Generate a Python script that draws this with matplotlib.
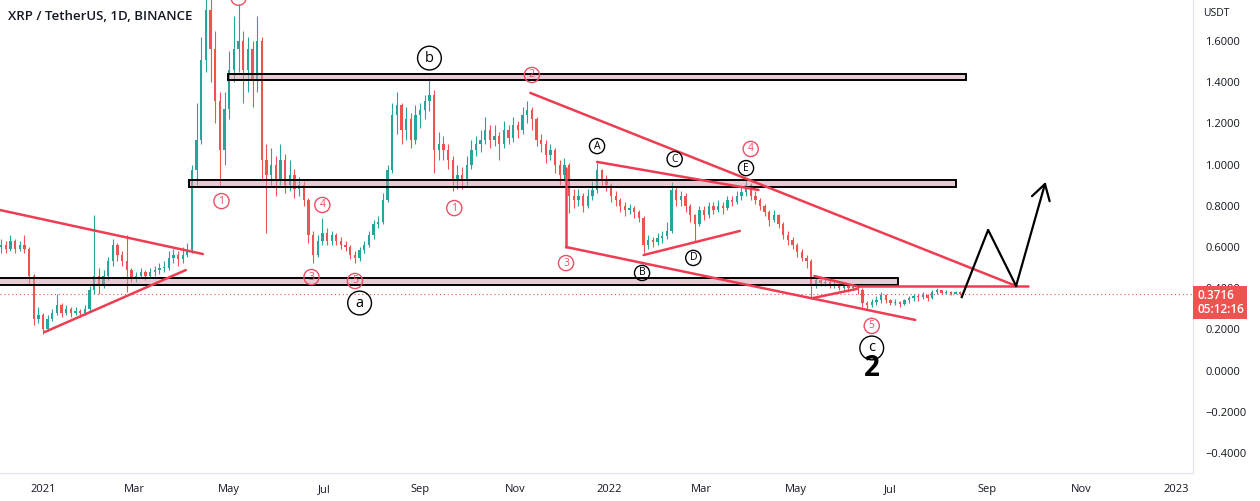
import matplotlib
matplotlib.use('Agg')
import matplotlib.pyplot as plt
import matplotlib.dates as mdates
from matplotlib.patches import Rectangle
from matplotlib.transforms import blended_transform_factory
import pandas as pd

plt.rcParams['font.family'] = ['Open Sans', 'DejaVu Sans']

# 3-day candles, XRP/USDT, Dec 2020 - Aug 2022
first_open = 0.60
closes = [0.61, 0.59, 0.63, 0.59, 0.61, 0.59, 0.46, 0.25, 0.27, 0.20,
          0.25, 0.28, 0.32, 0.28, 0.30, 0.28, 0.29, 0.28, 0.30, 0.39,
          0.46, 0.42, 0.46, 0.53, 0.61, 0.56, 0.53, 0.49, 0.45, 0.46,
          0.48, 0.46, 0.48, 0.49, 0.50, 0.50, 0.545, 0.56, 0.54, 0.56,
          0.585, 0.975, 1.12, 1.51, 1.75, 1.56, 1.31, 1.07, 1.27, 1.46,
          1.56, 1.60, 1.46, 1.56, 1.41, 1.60, 1.02, 0.95, 1.00, 0.925,
          1.02, 0.90, 0.95, 0.88, 0.90, 0.83, 0.66, 0.56, 0.63, 0.67,
          0.63, 0.66, 0.63, 0.61, 0.60, 0.56, 0.545, 0.585, 0.61, 0.66,
          0.71, 0.72, 0.83, 0.975, 1.24, 1.29, 1.17, 1.22, 1.12, 1.24,
          1.265, 1.31, 1.34, 1.07, 1.10, 1.07, 1.02, 0.925, 0.95, 0.925,
          1.00, 1.07, 1.10, 1.12, 1.17, 1.12, 1.14, 1.10, 1.17, 1.13,
          1.19, 1.17, 1.24, 1.265, 1.22, 1.12, 1.10, 1.045, 1.07, 1.00,
          0.95, 1.00, 0.85, 0.83, 0.85, 0.80, 0.85, 0.875, 0.975, 0.925,
          0.90, 0.85, 0.83, 0.80, 0.78, 0.79, 0.77, 0.74, 0.61, 0.634,
          0.625, 0.645, 0.655, 0.68, 0.875, 0.83, 0.85, 0.80, 0.755, 0.71,
          0.78, 0.755, 0.80, 0.78, 0.80, 0.79, 0.83, 0.82, 0.85, 0.865,
          0.90, 0.85, 0.83, 0.80, 0.77, 0.73, 0.755, 0.71, 0.66, 0.634,
          0.61, 0.575, 0.545, 0.53, 0.415, 0.44, 0.425, 0.43, 0.415, 0.42,
          0.40, 0.41, 0.40, 0.405, 0.39, 0.33, 0.32, 0.335, 0.343, 0.367,
          0.343, 0.33, 0.335, 0.325, 0.343, 0.352, 0.36, 0.357, 0.367, 0.352,
          0.38, 0.39, 0.377, 0.38, 0.372, 0.38, 0.3716]
highs = [0.64, 0.63, 0.66, 0.64, 0.63, 0.66, 0.60, 0.47, 0.31, 0.28,
         0.27, 0.30, 0.37, 0.33, 0.32, 0.31, 0.31, 0.30, 0.32, 0.41,
         0.755, 0.50, 0.49, 0.55, 0.64, 0.62, 0.58, 0.66, 0.50, 0.48,
         0.50, 0.49, 0.50, 0.51, 0.52, 0.53, 0.58, 0.59, 0.58, 0.60,
         0.62, 1.00, 1.30, 1.62, 1.96, 1.85, 1.65, 1.35, 1.35, 1.55,
         1.72, 1.78, 1.65, 1.62, 1.60, 1.72, 1.62, 1.10, 1.08, 1.04,
         1.10, 1.05, 1.02, 0.98, 0.94, 0.92, 0.84, 0.68, 0.66, 0.74,
         0.69, 0.68, 0.67, 0.65, 0.63, 0.61, 0.58, 0.60, 0.63, 0.68,
         0.73, 0.75, 0.86, 1.00, 1.30, 1.35, 1.30, 1.28, 1.25, 1.29,
         1.30, 1.34, 1.42, 1.36, 1.16, 1.14, 1.10, 1.04, 1.00, 0.99,
         1.04, 1.12, 1.14, 1.17, 1.23, 1.19, 1.19, 1.16, 1.21, 1.19,
         1.23, 1.21, 1.28, 1.31, 1.28, 1.23, 1.15, 1.12, 1.10, 1.08,
         1.02, 1.03, 1.01, 0.88, 0.88, 0.86, 0.88, 0.92, 1.01, 0.98,
         0.95, 0.91, 0.87, 0.84, 0.82, 0.81, 0.80, 0.78, 0.75, 0.66,
         0.65, 0.67, 0.68, 0.72, 0.915, 0.89, 0.87, 0.86, 0.81, 0.76,
         0.80, 0.80, 0.82, 0.82, 0.83, 0.82, 0.85, 0.85, 0.87, 0.89,
         0.935, 0.91, 0.87, 0.84, 0.81, 0.78, 0.78, 0.76, 0.72, 0.68,
         0.65, 0.62, 0.59, 0.56, 0.54, 0.46, 0.45, 0.45, 0.44, 0.44,
         0.43, 0.43, 0.42, 0.42, 0.41, 0.40, 0.34, 0.35, 0.36, 0.38,
         0.37, 0.35, 0.35, 0.34, 0.35, 0.36, 0.37, 0.37, 0.38, 0.37,
         0.39, 0.40, 0.39, 0.39, 0.385, 0.385, 0.385]
lows = [0.57, 0.57, 0.58, 0.57, 0.58, 0.57, 0.42, 0.22, 0.23, 0.18,
        0.19, 0.24, 0.27, 0.26, 0.27, 0.26, 0.27, 0.26, 0.27, 0.29,
        0.37, 0.37, 0.40, 0.44, 0.51, 0.53, 0.51, 0.38, 0.43, 0.43,
        0.45, 0.44, 0.45, 0.46, 0.47, 0.48, 0.49, 0.52, 0.51, 0.52,
        0.55, 0.57, 0.90, 1.10, 1.45, 1.40, 1.20, 0.89, 1.00, 1.22,
        1.40, 1.45, 1.30, 1.35, 1.28, 1.35, 0.92, 0.67, 0.90, 0.85,
        0.90, 0.86, 0.87, 0.84, 0.85, 0.80, 0.62, 0.52, 0.55, 0.61,
        0.61, 0.61, 0.61, 0.59, 0.58, 0.54, 0.52, 0.53, 0.57, 0.60,
        0.64, 0.69, 0.71, 0.82, 0.96, 1.15, 1.10, 1.12, 1.08, 1.10,
        1.18, 1.22, 1.26, 0.96, 1.02, 1.02, 0.98, 0.87, 0.88, 0.88,
        0.90, 0.98, 1.04, 1.06, 1.10, 1.08, 1.09, 1.02, 1.08, 1.10,
        1.11, 1.13, 1.15, 1.20, 1.17, 1.09, 1.06, 1.01, 1.02, 0.96,
        0.90, 0.93, 0.765, 0.79, 0.80, 0.77, 0.79, 0.83, 0.86, 0.89,
        0.87, 0.82, 0.80, 0.77, 0.75, 0.76, 0.74, 0.72, 0.57, 0.59,
        0.60, 0.61, 0.62, 0.64, 0.67, 0.80, 0.80, 0.77, 0.72, 0.63,
        0.70, 0.73, 0.74, 0.76, 0.77, 0.76, 0.78, 0.80, 0.81, 0.83,
        0.85, 0.83, 0.81, 0.78, 0.75, 0.70, 0.72, 0.69, 0.64, 0.61,
        0.59, 0.55, 0.53, 0.50, 0.35, 0.40, 0.41, 0.41, 0.40, 0.40,
        0.39, 0.39, 0.38, 0.39, 0.37, 0.31, 0.30, 0.31, 0.32, 0.33,
        0.33, 0.32, 0.32, 0.31, 0.32, 0.33, 0.34, 0.34, 0.35, 0.34,
        0.35, 0.37, 0.37, 0.37, 0.365, 0.37, 0.365]

# support / resistance zones
zone_starts = ['2021-04-30', '2021-04-05', '2020-11-20']
zone_ends = ['2022-08-19', '2022-08-12', '2022-07-06']
zone_lo = [1.411, 0.891, 0.416]
zone_hi = [1.440, 0.925, 0.449]

# red trend lines: (start date, start price, end date, end price)
red_lines = [
    ('2020-12-04', 0.780, '2021-04-14', 0.566),
    ('2021-01-02', 0.187, '2021-04-03', 0.488),
    ('2021-11-11', 1.348, '2022-09-20', 0.411),
    ('2022-06-11', 0.411, '2022-09-28', 0.411),
    ('2021-12-04', 0.983, '2021-12-04', 0.600),
    ('2021-12-04', 0.600, '2022-07-17', 0.246),
    ('2021-12-24', 1.013, '2022-04-07', 0.877),
    ('2022-01-23', 0.561, '2022-03-26', 0.678),
    ('2022-05-13', 0.459, '2022-06-11', 0.406),
    ('2022-05-12', 0.352, '2022-06-09', 0.396),
]

# projected path
proj_dates = ['2022-08-16', '2022-09-02', '2022-09-20', '2022-10-09']
proj_prices = [0.357, 0.683, 0.411, 0.916]

# wave labels
red_waves = [('1', '2021-04-26', 0.823), ('2', '2021-05-07', 1.81),
             ('3', '2021-06-23', 0.454), ('4', '2021-06-30', 0.804),
             ('5', '2021-07-21', 0.435), ('1', '2021-09-23', 0.789),
             ('2', '2021-11-12', 1.435), ('3', '2021-12-04', 0.522),
             ('4', '2022-04-02', 1.076), ('5', '2022-06-19', 0.217)]
big_waves = [('a', '2021-07-24', 0.328), ('b', '2021-09-07', 1.517),
             ('c', '2022-06-19', 0.110)]
small_waves = [('A', '2021-12-24', 1.090), ('B', '2022-01-22', 0.474),
               ('C', '2022-02-12', 1.027), ('D', '2022-02-24', 0.547),
               ('E', '2022-03-30', 0.983)]

tick_dates = ['2021-01-01', '2021-03-01', '2021-05-01', '2021-07-01', '2021-09-01',
              '2021-11-01', '2022-01-01', '2022-03-01', '2022-05-01', '2022-07-01',
              '2022-09-01', '2022-11-01', '2023-01-01']
tick_labels = ['2021', 'Mar', 'May', 'Jul', 'Sep', 'Nov', '2022', 'Mar', 'May',
               'Jul', 'Sep', 'Nov', '2023']
price_ticks = [-0.4, -0.2, 0.0, 0.2, 0.4, 0.6, 0.8, 1.0, 1.2, 1.4, 1.6]


def d(s):
    return mdates.date2num(pd.Timestamp(s))


UP, DOWN = '#26a69a', '#ef5350'
RED = '#ee3d52'
TXT = '#131722'

fig = plt.figure(figsize=(12.6, 5.01), dpi=100)
ax = fig.add_axes([0, 28 / 501, 1193 / 1260, 473 / 501])

dates = pd.date_range('2020-12-05', periods=len(closes), freq='3D')
x = mdates.date2num(dates)
opens = [first_open] + closes[:-1]
cols = [UP if c >= o else DOWN for o, c in zip(opens, closes)]
ax.vlines(x, lows, highs, colors=cols, lw=0.8, zorder=2)
bottoms = [min(o, c) for o, c in zip(opens, closes)]
heights = [max(abs(c - o), 0.004) for o, c in zip(opens, closes)]
ax.bar(x, heights, bottom=bottoms, width=1.5, color=cols, zorder=2)

for s, e, lo, hi in zip(zone_starts, zone_ends, zone_lo, zone_hi):
    ax.add_patch(Rectangle((d(s), lo), d(e) - d(s), hi - lo,
                           fc=(0.82, 0.6, 0.67, 0.5), ec='black', lw=1.4, zorder=3))

for s, p0, e, p1 in red_lines:
    ax.plot([d(s), d(e)], [p0, p1], color=RED, lw=1.8, zorder=4,
            solid_capstyle='round')

px = [d(s) for s in proj_dates]
ax.plot(px[:-1], proj_prices[:-1], color='black', lw=1.6, zorder=5)
ax.annotate('', xy=(px[-1], proj_prices[-1]), xytext=(px[-2], proj_prices[-2]),
            arrowprops=dict(arrowstyle='->,head_length=0.5,head_width=0.3',
                            lw=1.6, color='black', mutation_scale=22,
                            shrinkA=0, shrinkB=0), zorder=5)

for t, s, p in red_waves:
    ax.text(d(s), p, t, color='#ec4e63', fontsize=7.5, ha='center', va='center',
            zorder=6, clip_on=True,
            bbox=dict(boxstyle='circle,pad=0.2', fc='none', ec='#ec4e63', lw=1))
for t, s, p in big_waves:
    ax.text(d(s), p, t, color='black', fontsize=10.5, ha='center', va='center',
            zorder=6, bbox=dict(boxstyle='circle,pad=0.3', fc='none', ec='black', lw=1))
for t, s, p in small_waves:
    ax.text(d(s), p, t, color='black', fontsize=7.5, ha='center', va='center',
            zorder=6, bbox=dict(boxstyle='circle,pad=0.2', fc='none', ec='black', lw=1))
ax.text(d('2022-06-19'), 0.008, '2', fontsize=20, fontweight='bold',
        ha='center', va='center', color='black', zorder=6)

last = closes[-1]
ax.axhline(last, color=DOWN, lw=0.8, ls=(0, (1, 2.5)), zorder=1)

ax.set_xlim(d('2020-12-04 07:00'), d('2023-01-12'))
ax.set_ylim(-0.497, 1.799)

ax.set_xticks([d(t) for t in tick_dates])
ax.set_xticklabels(tick_labels)
ax.yaxis.tick_right()
ax.set_yticks(price_ticks)
ax.set_yticklabels([('%.4f' % v).replace('-', '\u2212') for v in price_ticks])
ax.tick_params(axis='both', length=0, labelsize=8, colors=TXT)
ax.tick_params(axis='x', pad=8)
ax.tick_params(axis='y', pad=9)
for side in ['top', 'left']:
    ax.spines[side].set_visible(False)
for side in ['right', 'bottom']:
    ax.spines[side].set_color('#e0e3eb')

ax.annotate('USDT', xy=(1, 1), xycoords='axes fraction', xytext=(10, -14),
            textcoords='offset pixels', va='center', fontsize=7.5, color=TXT)

tr = blended_transform_factory(ax.transAxes, ax.transData)
ax.annotate('0.3716\n05:12:16', xy=(1, last), xycoords=tr, xytext=(4, 5),
            textcoords='offset pixels', va='top', ha='left', fontsize=8.5,
            fontweight='semibold', color='white', linespacing=1.05,
            annotation_clip=False, zorder=10,
            bbox=dict(boxstyle='square,pad=0.3', fc=DOWN, ec='none'))

fig.text(8 / 1260, 1 - 16 / 501, 'XRP / TetherUS, 1D, BINANCE', fontsize=9.5,
         fontweight='semibold', color=TXT, va='center')

fig.savefig('out.png', dpi=100)
